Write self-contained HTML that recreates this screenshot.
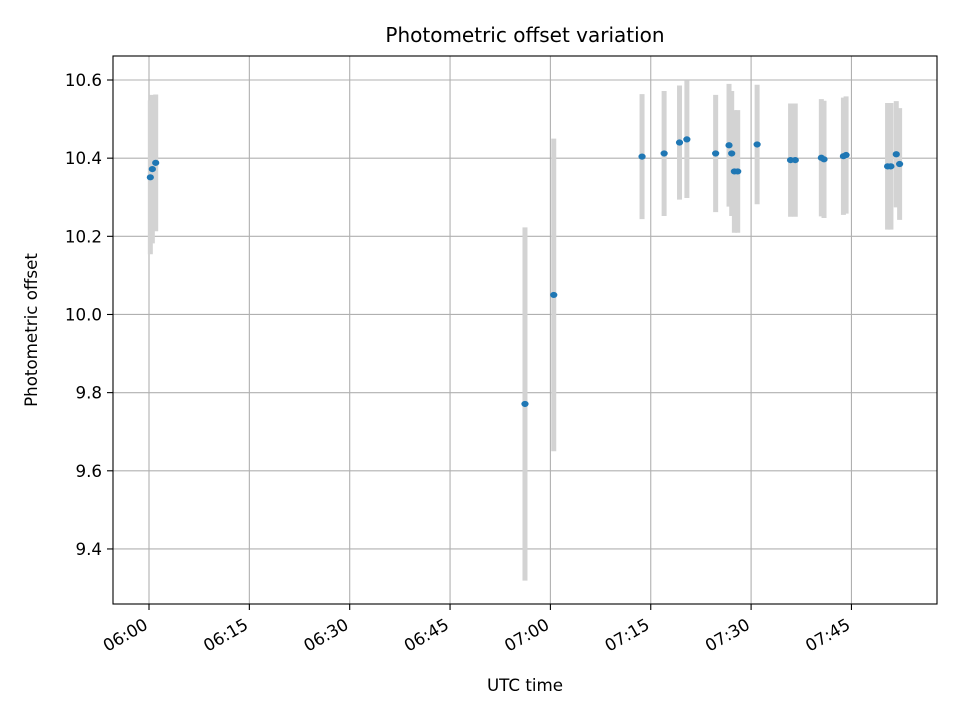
<!DOCTYPE html>
<html><head><meta charset="utf-8"><style>
body{margin:0;background:#fff}
svg text{font-family:"DejaVu Sans","Liberation Sans",sans-serif;fill:#000}
</style></head><body>
<svg id="chart" width="960" height="720" xmlns="http://www.w3.org/2000/svg">
<text x="525" y="42" font-size="20" text-anchor="middle">Photometric offset variation</text>
<g id="grid"></g>
<g id="errs"></g>
<g id="pts"></g>
<rect x="113" y="56" width="824" height="548" fill="none" stroke="#000" stroke-width="1.1"/>
<g id="ticks"></g>
<text x="525" y="691" font-size="16.7" text-anchor="middle">UTC time</text>
<text transform="translate(37,330) rotate(-90)" font-size="16.7" text-anchor="middle">Photometric offset</text>
</svg>
<script>
// minutes after 06:00
const times=[0.2,0.5,1.0,56.2,60.5,73.7,77.0,79.3,80.4,84.7,86.7,87.1,87.5,88.0,90.9,95.9,96.6,100.5,100.9,103.8,104.2,110.4,110.9,111.7,112.2];
const values=[10.351,10.372,10.388,9.771,10.05,10.404,10.412,10.44,10.448,10.412,10.433,10.412,10.366,10.366,10.435,10.395,10.395,10.401,10.397,10.405,10.408,10.379,10.379,10.41,10.385];
const errors=[0.197,0.19,0.175,0.452,0.4,0.16,0.16,0.146,0.15,0.15,0.157,0.16,0.157,0.157,0.153,0.145,0.145,0.15,0.15,0.15,0.15,0.162,0.162,0.136,0.143];
const xTicks=[0,15,30,45,60,75,90,105];
const xTickLabels=["06:00","06:15","06:30","06:45","07:00","07:15","07:30","07:45"];
const yTicks=[9.4,9.6,9.8,10.0,10.2,10.4,10.6];
const yTickLabels=["9.4","9.6","9.8","10.0","10.2","10.4","10.6"];
const X=t=>149+t*6.69;
const Y=v=>80+(10.6-v)*390.8;
const NS="http://www.w3.org/2000/svg";
function mk(tag,attrs,parent){const e=document.createElementNS(NS,tag);for(const k in attrs)e.setAttribute(k,attrs[k]);parent.appendChild(e);return e;}
const grid=document.getElementById('grid'),ticks=document.getElementById('ticks');
xTicks.forEach((t,i)=>{
 const gl=mk('line',{x1:X(t),x2:X(t),y1:56,y2:604,stroke:'#b0b0b0','stroke-width':1.1},grid);
 
 
 const tk=mk('line',{x1:X(t),x2:X(t),y1:604,y2:610,stroke:'#000','stroke-width':1.1},ticks);
 
 
 const tx=mk('text',{x:0,y:0,'font-size':16.7,'text-anchor':'end',transform:`translate(${X(t)},${628}) rotate(-30)`},ticks);
 tx.textContent=xTickLabels[i];
 
 
});
yTicks.forEach((v,i)=>{
 const gl=mk('line',{x1:113,x2:937,y1:Y(v),y2:Y(v),stroke:'#b0b0b0','stroke-width':1.1},grid);
 
 
 const tk=mk('line',{x1:107,x2:113,y1:Y(v),y2:Y(v),stroke:'#000','stroke-width':1.1},ticks);
 
 
 const tx=mk('text',{x:102,y:Y(v)+6,'font-size':16.7,'text-anchor':'end'},ticks);
 tx.textContent=yTickLabels[i];
 
 
});
const errs=document.getElementById('errs'),pts=document.getElementById('pts');
times.forEach((t,i)=>{
 const e=mk('line',{x1:X(t),x2:X(t),y1:Y(values[i]+errors[i]),y2:Y(values[i]-errors[i]),stroke:'#d3d3d3','stroke-width':5},errs);
 
 
});
times.forEach((t,i)=>{
 const c=mk('ellipse',{cx:X(t),cy:Y(values[i]),rx:3.6,ry:3.1,fill:'#1f77b4'},pts);
 
 
});
</script>
</body></html>
